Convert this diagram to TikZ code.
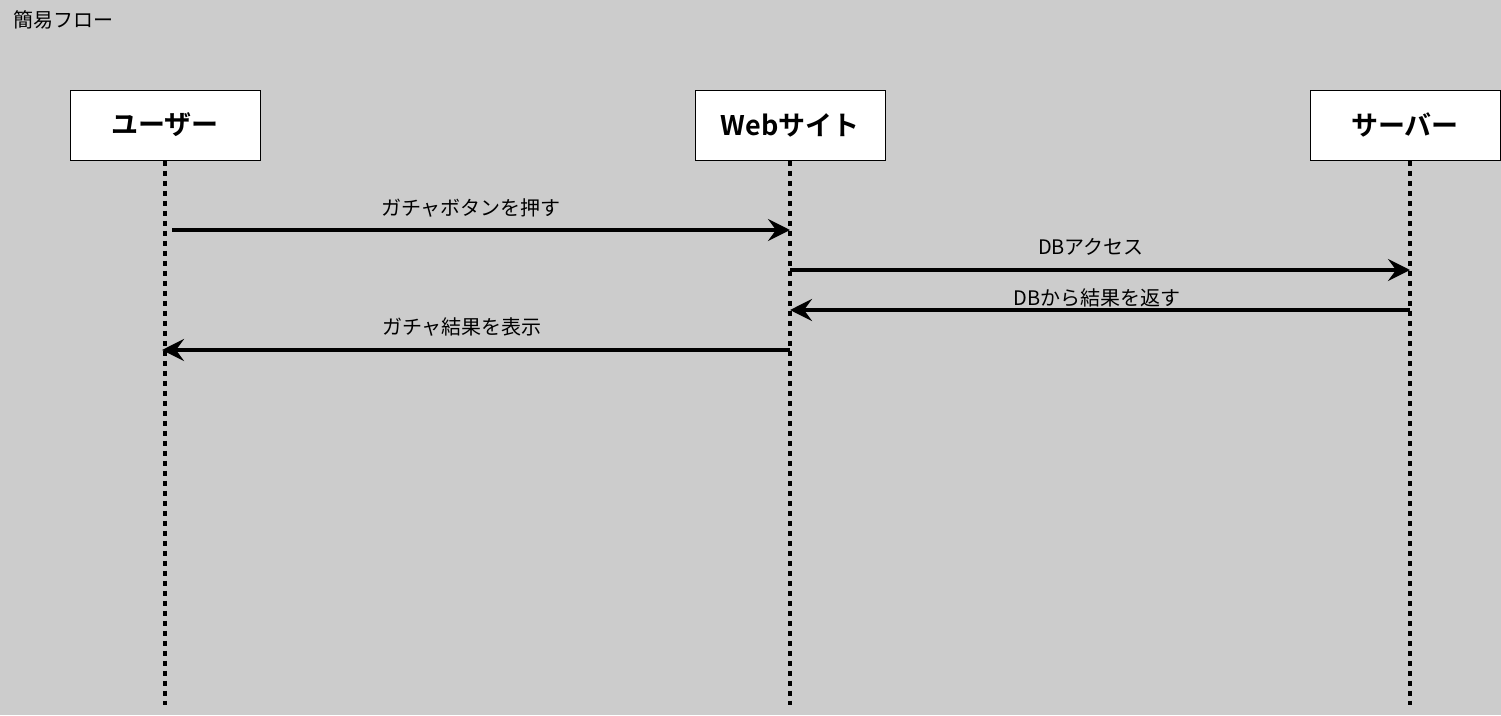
\documentclass[tikz,border=0pt]{standalone}
\usepackage{fontspec}
\setmainfont{Noto Sans CJK JP}[BoldFont={Noto Sans CJK JP Bold}]
\usetikzlibrary{arrows.meta}
\definecolor{bggray}{HTML}{CCCCCC}

\begin{document}
\begin{tikzpicture}[x=1pt,y=-1pt,
        actor/.style={draw,fill=white,line width=1pt,minimum width=190pt,
            minimum height=70pt,font=\fontsize{27}{32}\selectfont\bfseries},
        lifeline/.style={line width=4pt,dash pattern=on 5pt off 5pt},
        msg/.style={line width=4pt,-{Stealth[length=22pt,width=22pt,inset=8pt]}},
        msglabel/.style={font=\fontsize{20}{24}\selectfont}]
                \fill[bggray] (0,0) rectangle (1501,715);
                \node[anchor=west,font=\fontsize{20}{24}\selectfont] (title) at (10,20) {簡易フロー};

                % actors
                \node[actor] (user) at (165,125) {ユーザー};
                \node[actor] (site) at (790,125) {Webサイト};
                \node[actor] (server) at (1405,125) {サーバー};

                % lifelines
                \coordinate (userend) at (165,705);
                \coordinate (siteend) at (790,705);
                \coordinate (serverend) at (1410,705);
                \draw[lifeline] (user.south -| userend) -- (userend);
                \draw[lifeline] (site.south -| siteend) -- (siteend);
                \draw[lifeline] (server.south -| serverend) -- (serverend);

                % messages
                \coordinate (u1) at (172,230);
                \coordinate (s1) at (790,230);
                \draw[msg] (u1) -- (s1);
                \node[msglabel] (lab1) at (471,208) {ガチャボタンを押す};

                \coordinate (s2) at (790,270);
                \coordinate (v2) at (1410,270);
                \draw[msg] (s2) -- (v2);
                \node[msglabel] (lab2) at (1091,247) {DBアクセス};

                \coordinate (v3) at (1410,310);
                \coordinate (s3) at (790,310);
                \draw[msg] (v3) -- (s3);
                \node[msglabel] (lab3) at (1097,298) {DBから結果を返す};

                \coordinate (s4) at (790,350);
                \coordinate (u4) at (162,350);
                \draw[msg] (s4) -- (u4);
                \node[msglabel] (lab4) at (462,327) {ガチャ結果を表示};
\end{tikzpicture}
\end{document}
